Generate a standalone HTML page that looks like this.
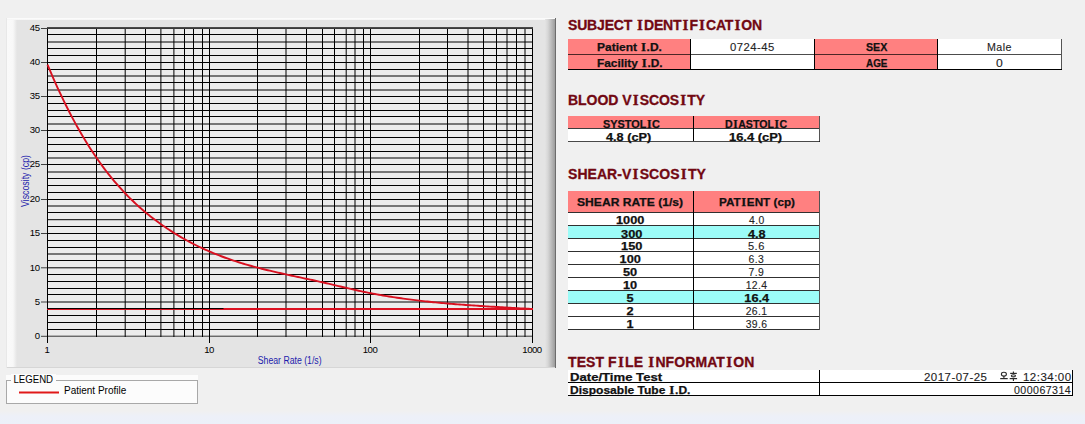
<!DOCTYPE html>
<html><head><meta charset="utf-8"><style>
*{margin:0;padding:0;box-sizing:border-box}
html,body{width:1085px;height:424px;overflow:hidden;background:#f0f0f0;font-family:"Liberation Sans",sans-serif;position:relative}
.bot{position:absolute;left:0;top:411px;width:1085px;height:13px;background:linear-gradient(#f0f0f0,#edf0f8 40%,#ecf0f9)}
.panel{position:absolute;left:7px;top:18px;width:549px;height:350px;background:#e4e4e4}
.pl{position:absolute;left:7px;top:18px;width:10px;height:350px;background:linear-gradient(90deg,#fafafa,#f8f8f8 60%,#e4e4e4)}
.pl0{position:absolute;left:6px;top:18px;width:1px;height:350px;background:#e8e8e8}
.pt{position:absolute;left:7px;top:18px;width:548px;height:2px;background:linear-gradient(#fbfbfb 50%,#f2f2f2)}
.pr{position:absolute;left:545px;top:19px;width:10px;height:349px;background:linear-gradient(90deg,#e4e4e4,#d6d6d6 30%,#9c9c9c)}
.pr2{position:absolute;left:555px;top:18px;width:1px;height:350px;background:#6c6c6c}
.pb{position:absolute;left:7px;top:367px;width:548px;height:1px;background:#d6d6d6}
svg.g{position:absolute;left:0;top:0}
.yl{position:absolute;width:40.5px;text-align:right;font-size:9.6px;letter-spacing:-0.5px;line-height:12px;color:#000}
.yl span{display:inline-block;transform-origin:100% 0}
.xl{position:absolute;width:40px;text-align:center;font-size:9.6px;letter-spacing:-0.5px;line-height:12px;color:#000}
.xl span{display:inline-block;transform-origin:50% 0}
.ytitle{position:absolute;left:26.3px;top:180.6px;width:0;height:0}
.ytitle span{position:absolute;left:-50px;top:-6px;width:100px;text-align:center;font-size:10px;line-height:12px;color:#1c1cac;transform:rotate(-90deg) scaleX(0.877)}
.xtitle{position:absolute;left:230px;top:355px;width:120px;text-align:center;font-size:10px;line-height:12px;color:#1c1cac}
.xtitle span{display:inline-block;transform:scaleX(0.87)}
.leg{position:absolute;left:6px;top:375px;width:192px;height:29px;background:#fcfcfc}
.legb{position:absolute;left:6px;top:380px;width:192px;height:24px;border:1px solid #a8a8a8}
.legt{position:absolute;left:11px;top:374px;padding:0 2px;font-size:10px;line-height:12px;background:#fcfcfc;color:#000}
.legl{position:absolute;left:19px;top:391px;width:40px;height:2px;background:#e01818;transform:translateY(0.5px)}
.legx{position:absolute;left:64px;top:385px;font-size:10px;line-height:12px;color:#000}
.box,.hl,.vl{position:absolute}
.hl{height:1px} .vl{width:1px}
.tb,.tr{position:absolute;font-size:11px;line-height:12px;white-space:nowrap;color:#111}
.tb{font-weight:bold;-webkit-text-stroke:0.25px #111}
.tr{color:#1a1a1a;letter-spacing:0.45px;-webkit-text-stroke:0.12px #333}
.tb span,.tr span{display:inline-block;transform-origin:0 0}
.c{text-align:center} .c span{transform-origin:50% 0}
.ko{display:inline-block;width:18px;height:10px}
.h{position:absolute;left:568px;font-size:14px;font-weight:bold;color:#720812;letter-spacing:-0.05px;-webkit-text-stroke:0.3px #720812;line-height:16px;white-space:nowrap}
i{font-style:normal;font-family:"Liberation Serif",serif;font-size:1.08em;line-height:1px;padding:0 1.2px}
.tb i{padding:0 0.6px}
</style></head><body>
<div class="bot"></div>
<div class="panel"></div><div class="pl0"></div><div class="pl"></div><div class="pt"></div><div class="pr"></div><div class="pr2"></div><div class="pb"></div>
<svg class="g" width="560" height="370" viewBox="0 0 560 370">
<g stroke="#000" stroke-width="1" fill="none">
<rect x="47" y="27" width="486" height="310" fill="#ececec" stroke="none"/>
<line x1="47" x2="533" y1="34.50" y2="34.50"/>
<line x1="47" x2="533" y1="42.00" y2="42.00"/>
<line x1="47" x2="533" y1="48.50" y2="48.50"/>
<line x1="47" x2="533" y1="55.50" y2="55.50"/>
<line x1="47" x2="533" y1="62.50" y2="62.50"/>
<line x1="47" x2="533" y1="69.50" y2="69.50"/>
<line x1="47" x2="533" y1="76.00" y2="76.00"/>
<line x1="47" x2="533" y1="82.50" y2="82.50"/>
<line x1="47" x2="533" y1="90.00" y2="90.00"/>
<line x1="47" x2="533" y1="96.50" y2="96.50"/>
<line x1="47" x2="533" y1="103.50" y2="103.50"/>
<line x1="47" x2="533" y1="110.50" y2="110.50"/>
<line x1="47" x2="533" y1="116.50" y2="116.50"/>
<line x1="47" x2="533" y1="124.00" y2="124.00"/>
<line x1="47" x2="533" y1="130.50" y2="130.50"/>
<line x1="47" x2="533" y1="137.50" y2="137.50"/>
<line x1="47" x2="533" y1="144.50" y2="144.50"/>
<line x1="47" x2="533" y1="151.50" y2="151.50"/>
<line x1="47" x2="533" y1="158.00" y2="158.00"/>
<line x1="47" x2="533" y1="164.50" y2="164.50"/>
<line x1="47" x2="533" y1="172.00" y2="172.00"/>
<line x1="47" x2="533" y1="178.50" y2="178.50"/>
<line x1="47" x2="533" y1="185.50" y2="185.50"/>
<line x1="47" x2="533" y1="192.50" y2="192.50"/>
<line x1="47" x2="533" y1="199.50" y2="199.50"/>
<line x1="47" x2="533" y1="206.00" y2="206.00"/>
<line x1="47" x2="533" y1="212.50" y2="212.50"/>
<line x1="47" x2="533" y1="219.70" y2="219.70"/>
<line x1="47" x2="533" y1="226.50" y2="226.50"/>
<line x1="47" x2="533" y1="233.50" y2="233.50"/>
<line x1="47" x2="533" y1="240.50" y2="240.50"/>
<line x1="47" x2="533" y1="247.50" y2="247.50"/>
<line x1="47" x2="533" y1="254.00" y2="254.00"/>
<line x1="47" x2="533" y1="260.50" y2="260.50"/>
<line x1="47" x2="533" y1="267.80" y2="267.80"/>
<line x1="47" x2="533" y1="274.50" y2="274.50"/>
<line x1="47" x2="533" y1="281.50" y2="281.50"/>
<line x1="47" x2="533" y1="288.50" y2="288.50"/>
<line x1="47" x2="533" y1="294.50" y2="294.50"/>
<line x1="47" x2="533" y1="302.00" y2="302.00"/>
<line x1="47" x2="533" y1="309.00" y2="309.00"/>
<line x1="47" x2="533" y1="315.50" y2="315.50"/>
<line x1="47" x2="533" y1="322.50" y2="322.50"/>
<line x1="47" x2="533" y1="329.50" y2="329.50"/>
<line x1="47" x2="533" y1="336.2" y2="336.2" stroke="#303030"/>
<line x1="47.50" x2="47.50" y1="27" y2="337"/>
<line x1="96.50" x2="96.50" y1="27" y2="337"/>
<line x1="125.20" x2="125.20" y1="27" y2="337"/>
<line x1="145.50" x2="145.50" y1="27" y2="337"/>
<line x1="160.90" x2="160.90" y1="27" y2="337"/>
<line x1="173.90" x2="173.90" y1="27" y2="337"/>
<line x1="184.50" x2="184.50" y1="27" y2="337"/>
<line x1="193.50" x2="193.50" y1="27" y2="337"/>
<line x1="202.50" x2="202.50" y1="27" y2="337"/>
<line x1="209.50" x2="209.50" y1="27" y2="337"/>
<line x1="257.50" x2="257.50" y1="27" y2="337"/>
<line x1="286.00" x2="286.00" y1="27" y2="337"/>
<line x1="306.50" x2="306.50" y1="27" y2="337"/>
<line x1="322.50" x2="322.50" y1="27" y2="337"/>
<line x1="334.50" x2="334.50" y1="27" y2="337"/>
<line x1="346.20" x2="346.20" y1="27" y2="337"/>
<line x1="355.00" x2="355.00" y1="27" y2="337"/>
<line x1="363.50" x2="363.50" y1="27" y2="337"/>
<line x1="370.50" x2="370.50" y1="27" y2="337"/>
<line x1="419.50" x2="419.50" y1="27" y2="337"/>
<line x1="447.50" x2="447.50" y1="27" y2="337"/>
<line x1="468.00" x2="468.00" y1="27" y2="337"/>
<line x1="483.50" x2="483.50" y1="27" y2="337"/>
<line x1="496.50" x2="496.50" y1="27" y2="337"/>
<line x1="507.00" x2="507.00" y1="27" y2="337"/>
<line x1="516.50" x2="516.50" y1="27" y2="337"/>
<line x1="525.00" x2="525.00" y1="27" y2="337"/>
<line x1="532.50" x2="532.50" y1="27" y2="337"/>
<line x1="47" x2="533" y1="27.5" y2="27.5" stroke="#4a4a4a"/>
<line x1="47" x2="533" y1="28.5" y2="28.5" stroke="#3a3a3a"/>
<line x1="41" x2="47" y1="336.30" y2="336.30" stroke="#404040"/>
<line x1="41" x2="47" y1="302.00" y2="302.00" stroke="#404040"/>
<line x1="41" x2="47" y1="267.80" y2="267.80" stroke="#404040"/>
<line x1="41" x2="47" y1="233.50" y2="233.50" stroke="#404040"/>
<line x1="41" x2="47" y1="199.50" y2="199.50" stroke="#404040"/>
<line x1="41" x2="47" y1="164.50" y2="164.50" stroke="#404040"/>
<line x1="41" x2="47" y1="130.50" y2="130.50" stroke="#404040"/>
<line x1="41" x2="47" y1="96.50" y2="96.50" stroke="#404040"/>
<line x1="41" x2="47" y1="62.50" y2="62.50" stroke="#404040"/>
<line x1="41" x2="47" y1="28.50" y2="28.50" stroke="#404040"/>
<line x1="47.50" x2="47.50" y1="337" y2="343"/>
<line x1="209.50" x2="209.50" y1="337" y2="343"/>
<line x1="370.50" x2="370.50" y1="337" y2="343"/>
<line x1="532.50" x2="532.50" y1="337" y2="343"/>
</g>
<line x1="47" x2="533" y1="309.03" y2="309.03" stroke="#dc1020" stroke-width="2"/>
<line x1="47" x2="223.5" y1="308.53" y2="308.53" stroke="#000" stroke-width="1"/>
<polyline points="47.50,64.58 49.52,69.41 51.54,74.14 53.56,78.78 55.58,83.33 57.60,87.79 59.62,92.16 61.65,96.44 63.67,100.64 65.69,104.75 67.71,108.78 69.73,112.72 71.75,116.59 73.77,120.37 75.79,124.08 77.81,127.70 79.83,131.25 81.85,134.73 83.88,138.13 85.90,141.46 87.92,144.71 89.94,147.90 91.96,151.01 93.98,154.06 96.00,157.04 98.02,159.95 100.04,162.80 102.06,165.58 104.08,168.31 106.10,170.97 108.12,173.57 110.15,176.11 112.17,178.60 114.19,181.02 116.21,183.40 118.23,185.72 120.25,187.98 122.27,190.20 124.29,192.36 126.31,194.47 128.33,196.54 130.35,198.56 132.38,200.53 134.40,202.46 136.42,204.34 138.44,206.19 140.46,207.99 142.48,209.75 144.50,211.47 146.52,213.16 148.54,214.81 150.56,216.42 152.58,218.00 154.60,219.55 156.62,221.06 158.65,222.55 160.67,224.01 162.69,225.43 164.71,226.83 166.73,228.21 168.75,229.55 170.77,230.87 172.79,232.16 174.81,233.43 176.83,234.67 178.85,235.89 180.88,237.08 182.90,238.25 184.92,239.39 186.94,240.51 188.96,241.60 190.98,242.68 193.00,243.73 195.02,244.75 197.04,245.76 199.06,246.74 201.08,247.71 203.10,248.65 205.12,249.57 207.15,250.47 209.17,251.35 211.19,252.22 213.21,253.06 215.23,253.88 217.25,254.69 219.27,255.48 221.29,256.25 223.31,257.00 225.33,257.74 227.35,258.47 229.38,259.17 231.40,259.86 233.42,260.54 235.44,261.20 237.46,261.85 239.48,262.49 241.50,263.11 243.52,263.72 245.54,264.32 247.56,264.90 249.58,265.48 251.60,266.04 253.62,266.60 255.65,267.14 257.67,267.67 259.69,268.20 261.71,268.71 263.73,269.22 265.75,269.72 267.77,270.22 269.79,270.70 271.81,271.18 273.83,271.65 275.85,272.12 277.88,272.58 279.90,273.04 281.92,273.49 283.94,273.94 285.96,274.39 287.98,274.83 290.00,275.27 292.02,275.71 294.04,276.14 296.06,276.58 298.08,277.01 300.10,277.44 302.12,277.88 304.15,278.31 306.17,278.74 308.19,279.18 310.21,279.61 312.23,280.05 314.25,280.49 316.27,280.94 318.29,281.38 320.31,281.84 322.33,282.29 324.35,282.75 326.38,283.21 328.40,283.68 330.42,284.15 332.44,284.62 334.46,285.10 336.48,285.57 338.50,286.05 340.52,286.52 342.54,287.00 344.56,287.47 346.58,287.94 348.60,288.41 350.62,288.87 352.65,289.34 354.67,289.79 356.69,290.25 358.71,290.70 360.73,291.14 362.75,291.57 364.77,292.00 366.79,292.42 368.81,292.84 370.83,293.24 372.85,293.63 374.87,294.02 376.90,294.40 378.92,294.77 380.94,295.12 382.96,295.48 384.98,295.82 387.00,296.16 389.02,296.48 391.04,296.80 393.06,297.12 395.08,297.43 397.10,297.73 399.12,298.02 401.15,298.31 403.17,298.59 405.19,298.87 407.21,299.14 409.23,299.40 411.25,299.66 413.27,299.92 415.29,300.17 417.31,300.41 419.33,300.65 421.35,300.88 423.38,301.11 425.40,301.34 427.42,301.55 429.44,301.77 431.46,301.98 433.48,302.19 435.50,302.39 437.52,302.58 439.54,302.78 441.56,302.97 443.58,303.15 445.60,303.33 447.62,303.51 449.65,303.68 451.67,303.86 453.69,304.02 455.71,304.19 457.73,304.35 459.75,304.51 461.77,304.66 463.79,304.81 465.81,304.96 467.83,305.11 469.85,305.25 471.88,305.39 473.90,305.53 475.92,305.67 477.94,305.81 479.96,305.94 481.98,306.07 484.00,306.20 486.02,306.33 488.04,306.45 490.06,306.58 492.08,306.70 494.10,306.82 496.13,306.94 498.15,307.06 500.17,307.18 502.19,307.30 504.21,307.42 506.23,307.53 508.25,307.65 510.27,307.77 512.29,307.88 514.31,308.00 516.33,308.11 518.35,308.22 520.38,308.34 522.40,308.45 524.42,308.57 526.44,308.68 528.46,308.80 530.48,308.92 532.50,309.03" fill="none" stroke="#d81020" stroke-width="1.9" stroke-linejoin="round"/>
</svg>
<div class="yl" style="top:330px;left:-1.0px"><span style="transform:scaleX(1.0)">0</span></div>
<div class="yl" style="top:296px;left:-1.0px"><span style="transform:scaleX(1.0)">5</span></div>
<div class="yl" style="top:262px;left:-1.0px"><span style="transform:scaleX(1.0)">10</span></div>
<div class="yl" style="top:227px;left:-1.0px"><span style="transform:scaleX(1.0)">15</span></div>
<div class="yl" style="top:193px;left:-1.0px"><span style="transform:scaleX(1.0)">20</span></div>
<div class="yl" style="top:158px;left:-1.0px"><span style="transform:scaleX(1.0)">25</span></div>
<div class="yl" style="top:124px;left:-1.0px"><span style="transform:scaleX(1.0)">30</span></div>
<div class="yl" style="top:90px;left:-1.0px"><span style="transform:scaleX(1.0)">35</span></div>
<div class="yl" style="top:56px;left:-1.0px"><span style="transform:scaleX(1.0)">40</span></div>
<div class="yl" style="top:22px;left:-1.0px"><span style="transform:scaleX(1.0)">45</span></div>
<div class="xl" style="left:27.0px;top:343.5px"><span style="transform:scaleX(1.0)">1</span></div>
<div class="xl" style="left:189.0px;top:343.5px"><span style="transform:scaleX(1.0)">10</span></div>
<div class="xl" style="left:350.0px;top:343.5px"><span style="transform:scaleX(1.0)">100</span></div>
<div class="xl" style="left:512.0px;top:343.5px"><span style="transform:scaleX(1.0)">1000</span></div>
<div class="ytitle"><span>Viscosity (cp)</span></div>
<div class="xtitle"><span>Shear Rate (1/s)</span></div>
<div class="leg"></div><div class="legb"></div><div class="legt"><span style="display:inline-block;transform:translateX(0.4px) scaleX(0.965);transform-origin:0 0">LEGEND</span></div><div class="legl"></div><div class="legx">Patient Profile</div>
<div class="h" style="top:17px;letter-spacing:-0.17px">SUBJECT <i>I</i>DENT<i>I</i>F<i>I</i>CAT<i>I</i>ON</div>
<div class="h" style="top:92px">BLOOD V<i>I</i>SCOS<i>I</i>TY</div>
<div class="h" style="top:166px;letter-spacing:0.05px">SHEAR-V<i>I</i>SCOS<i>I</i>TY</div>
<div class="h" style="top:354px;letter-spacing:0.08px">TEST F<i>I</i>LE <i>I</i>NFORMAT<i>I</i>ON</div>
<div class="box" style="left:568px;top:39px;width:493px;height:30px;background:#fff"></div>
<div class="box" style="left:568px;top:39px;width:122px;height:30px;background:#ff8080"></div>
<div class="box" style="left:691px;top:39px;width:123px;height:30px;background:#fff"></div>
<div class="box" style="left:815px;top:39px;width:122px;height:30px;background:#ff8080"></div>
<div class="box" style="left:938px;top:39px;width:123px;height:30px;background:#fff"></div>
<div class="hl" style="left:568px;top:54px;width:493px;background:rgba(0,0,0,.7)"></div>
<div class="hl" style="left:568px;top:69px;width:494px;background:#000"></div>
<div class="vl" style="left:690px;top:39px;height:31px;background:#000"></div>
<div class="vl" style="left:814px;top:39px;height:31px;background:#000"></div>
<div class="vl" style="left:937px;top:39px;height:31px;background:#000"></div>
<div class="vl" style="left:1061px;top:39px;height:31px;background:rgba(0,0,0,.65)"></div>
<div class="box" style="left:568px;top:116px;width:251px;height:12px;background:#ff8080"></div>
<div class="box" style="left:568px;top:129px;width:251px;height:12px;background:#fff"></div>
<div class="hl" style="left:568px;top:128px;width:251px;background:rgba(0,0,0,.75)"></div>
<div class="hl" style="left:568px;top:141px;width:252px;background:rgba(0,0,0,.7)"></div>
<div class="vl" style="left:693px;top:116px;height:25px;background:#000"></div>
<div class="vl" style="left:819px;top:116px;height:26px;background:rgba(0,0,0,.65)"></div>
<div class="box" style="left:568px;top:191px;width:251px;height:21px;background:#ff8080"></div>
<div class="hl" style="left:568px;top:212px;width:251px;background:rgba(0,0,0,.8)"></div>
<div class="box" style="left:568px;top:213px;width:251px;height:12px;background:#fff"></div>
<div class="hl" style="left:568px;top:225px;width:251px;background:rgba(0,0,0,.8)"></div>
<div class="box" style="left:568px;top:226px;width:251px;height:12px;background:#9cfcf8"></div>
<div class="hl" style="left:568px;top:238px;width:251px;background:rgba(0,0,0,.8)"></div>
<div class="box" style="left:568px;top:239px;width:251px;height:12px;background:#fff"></div>
<div class="hl" style="left:568px;top:251px;width:251px;background:rgba(0,0,0,.8)"></div>
<div class="box" style="left:568px;top:252px;width:251px;height:12px;background:#fff"></div>
<div class="hl" style="left:568px;top:264px;width:251px;background:rgba(0,0,0,.8)"></div>
<div class="box" style="left:568px;top:265px;width:251px;height:12px;background:#fff"></div>
<div class="hl" style="left:568px;top:277px;width:251px;background:rgba(0,0,0,.8)"></div>
<div class="box" style="left:568px;top:278px;width:251px;height:12px;background:#fff"></div>
<div class="hl" style="left:568px;top:290px;width:251px;background:rgba(0,0,0,.8)"></div>
<div class="box" style="left:568px;top:291px;width:251px;height:12px;background:#9cfcf8"></div>
<div class="hl" style="left:568px;top:303px;width:251px;background:rgba(0,0,0,.8)"></div>
<div class="box" style="left:568px;top:304px;width:251px;height:12px;background:#fff"></div>
<div class="hl" style="left:568px;top:316px;width:251px;background:rgba(0,0,0,.8)"></div>
<div class="box" style="left:568px;top:317px;width:251px;height:12px;background:#fff"></div>
<div class="hl" style="left:568px;top:329px;width:251px;background:rgba(0,0,0,.8)"></div>
<div class="vl" style="left:693px;top:191px;height:138px;background:#000"></div>
<div class="vl" style="left:819px;top:191px;height:139px;background:rgba(0,0,0,.65)"></div>
<div class="box" style="left:568px;top:370px;width:504px;height:25px;background:#fff"></div>
<div class="hl" style="left:568px;top:382px;width:504px;background:#000"></div>
<div class="hl" style="left:568px;top:395px;width:505px;background:#000"></div>
<div class="vl" style="left:819px;top:370px;height:25px;background:#000"></div>
<div class="vl" style="left:1072px;top:370px;height:26px;background:#000"></div>
<div class="tb" style="left:597.31px;top:41.00px"><span style="transform:scaleX(1.0895)">Patient <i>I</i>.D.</span></div>
<div class="tb" style="left:597.07px;top:56.80px"><span style="transform:scaleX(1.0778)">Facility <i>I</i>.D.</span></div>
<div class="tr" style="left:730.26px;top:40.80px"><span style="transform:scaleX(1.0278)">0724-45</span></div>
<div class="tb" style="left:866.21px;top:41.10px"><span style="transform:scaleX(0.9701)">SEX</span></div>
<div class="tb" style="left:865.66px;top:56.80px"><span style="transform:scaleX(0.8997)">AGE</span></div>
<div class="tr" style="left:987.04px;top:40.90px"><span style="transform:scaleX(0.9695)">Male</span></div>
<div class="tr" style="left:996.41px;top:57.00px"><span style="transform:scaleX(1.1063)">0</span></div>
<div class="tb" style="left:602.99px;top:118.00px"><span style="transform:scaleX(0.9899)">SYSTOL<i>I</i>C</span></div>
<div class="tb" style="left:724.99px;top:118.00px"><span style="transform:scaleX(0.9604)">D<i>I</i>ASTOL<i>I</i>C</span></div>
<div class="tb" style="left:606.19px;top:131.00px"><span style="transform:scaleX(1.1564)">4.8 (cP)</span></div>
<div class="tb" style="left:728.59px;top:131.00px"><span style="transform:scaleX(1.1742)">16.4 (cP)</span></div>
<div class="tb" style="left:577.00px;top:195.80px"><span style="transform:scaleX(1.1007)">SHEAR RATE (1/s)</span></div>
<div class="tb" style="left:719.22px;top:195.60px"><span style="transform:scaleX(1.0633)">PAT<i>I</i>ENT (cp)</span></div>
<div class="tb" style="left:616.49px;top:214.20px"><span style="transform:scaleX(1.1605)">1000</span></div>
<div class="tb" style="left:620.63px;top:227.90px"><span style="transform:scaleX(1.1663)">300</span></div>
<div class="tb" style="left:620.56px;top:240.00px"><span style="transform:scaleX(1.1652)">150</span></div>
<div class="tr" style="left:748.94px;top:214.20px"><span style="transform:scaleX(0.9429)">4.0</span></div>
<div class="tb" style="left:748.23px;top:227.90px"><span style="transform:scaleX(1.1575)">4.8</span></div>
<div class="tr" style="left:747.92px;top:240.00px"><span style="transform:scaleX(1.0056)">5.6</span></div>
<div class="tb" style="left:570.11px;top:371.00px"><span style="transform:scaleX(1.1923)">Date/Time Test</span></div>
<div class="tb" style="left:570.29px;top:384.30px"><span style="transform:scaleX(1.0935)">Disposable Tube <i>I</i>.D.</span></div>
<div class="tr" style="left:924.48px;top:371.10px"><span style="transform:scaleX(1.0435)">2017-07-25</span></div>
<div class="tr" style="left:1022.83px;top:371.10px"><span style="transform:scaleX(1.0460)">12:34:00</span></div>
<div class="tr" style="left:1013.68px;top:384.00px"><span style="transform:scaleX(0.9672)">000067314</span></div>
<div class="tb c" style="left:568px;width:125px;top:253.20px"><span style="transform:scaleX(1.1605)">100</span></div>
<div class="tr c" style="left:694px;width:125px;top:253.20px"><span style="transform:scaleX(0.9429)">6.3</span></div>
<div class="tb c" style="left:568px;width:125px;top:266.20px"><span style="transform:scaleX(1.1605)">50</span></div>
<div class="tr c" style="left:694px;width:125px;top:266.20px"><span style="transform:scaleX(0.9429)">7.9</span></div>
<div class="tb c" style="left:568px;width:125px;top:279.20px"><span style="transform:scaleX(1.1605)">10</span></div>
<div class="tr c" style="left:694px;width:125px;top:279.20px"><span style="transform:scaleX(0.9429)">12.4</span></div>
<div class="tb c" style="left:568px;width:125px;top:292.20px"><span style="transform:scaleX(1.1605)">5</span></div>
<div class="tb c" style="left:694px;width:125px;top:292.20px"><span style="transform:scaleX(1.1605)">16.4</span></div>
<div class="tb c" style="left:568px;width:125px;top:305.20px"><span style="transform:scaleX(1.1605)">2</span></div>
<div class="tr c" style="left:694px;width:125px;top:305.20px"><span style="transform:scaleX(0.9429)">26.1</span></div>
<div class="tb c" style="left:568px;width:125px;top:318.20px"><span style="transform:scaleX(1.1605)">1</span></div>
<div class="tr c" style="left:694px;width:125px;top:318.20px"><span style="transform:scaleX(0.9429)">39.6</span></div>
<svg style="position:absolute;left:998px;top:370px" width="22" height="12" viewBox="998 370 22 12" fill="none" stroke="#2a2a2a" stroke-width="1.1">
<ellipse cx="1003.9" cy="374.2" rx="2.5" ry="1.9"/>
<line x1="1003.9" y1="376" x2="1003.9" y2="378.4"/>
<line x1="1000.2" y1="378.6" x2="1007.7" y2="378.6" stroke-width="1.2"/>
<line x1="1013.4" y1="371.6" x2="1013.4" y2="373"/>
<line x1="1010.2" y1="373.4" x2="1016.8" y2="373.4" stroke-width="1.2"/>
<ellipse cx="1013.4" cy="375.8" rx="2.1" ry="1.1"/>
<line x1="1009.7" y1="378.6" x2="1017.1" y2="378.6" stroke-width="1.2"/>
<line x1="1013.4" y1="378.6" x2="1013.4" y2="381"/>
</svg>
</body></html>
